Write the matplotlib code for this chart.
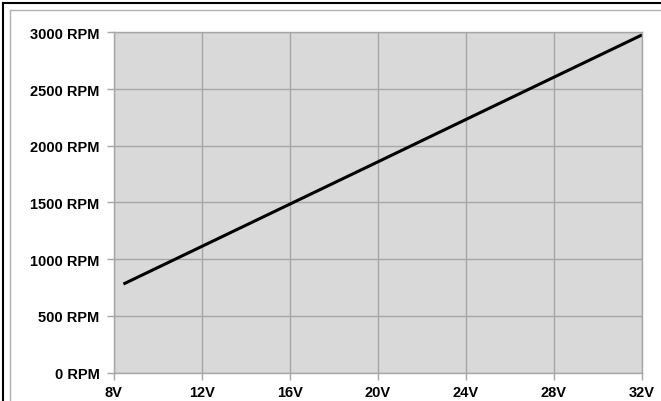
import matplotlib
matplotlib.use("Agg")
import matplotlib.pyplot as plt
from matplotlib.lines import Line2D

# motor speed vs supply voltage
volts = [8.45, 12, 16, 20, 24, 28, 32]
rpm = [780, 1111, 1484, 1857, 2231, 2604, 2977]

xticks = [8, 12, 16, 20, 24, 28, 32]
xlabels = ["8V", "12V", "16V", "20V", "24V", "28V", "32V"]
yticks = [0, 500, 1000, 1500, 2000, 2500, 3000]
ylabels = ["%d RPM" % v for v in yticks]

plt.rcParams["font.family"] = ["Liberation Sans", "DejaVu Sans"]
plt.rcParams["font.weight"] = "bold"

grid_col = "#a6a6a6"

fig = plt.figure(figsize=(6.61, 4.02), dpi=100)
fig.patch.set_facecolor("white")

# outer frame bits from the original screenshot
W, H = 661.0, 402.0
fig.add_artist(Line2D([3 / W, 3 / W], [0, 1 - 4 / H], color="black", lw=1.5, transform=fig.transFigure))
fig.add_artist(Line2D([3 / W, 1], [1 - 4 / H, 1 - 4 / H], color="black", lw=1.5, transform=fig.transFigure))
fig.add_artist(Line2D([10 / W, 10 / W], [0, 1 - 11 / H], color="#b0b0b0", lw=1, transform=fig.transFigure))
fig.add_artist(Line2D([10 / W, 1], [1 - 11 / H, 1 - 11 / H], color="#b0b0b0", lw=1, transform=fig.transFigure))

ax = fig.add_axes([113.5 / W, (H - 373.5) / H, (642 - 113.5) / W, (373.5 - 33.3) / H])
ax.set_facecolor("#d9d9d9")
ax.plot(volts, rpm, color="black", lw=2.2, solid_capstyle="butt")

ax.set_xlim(8, 32)
ax.set_ylim(0, 3000)
ax.set_xticks(xticks)
ax.set_xticklabels(xlabels)
ax.set_yticks(yticks)
ax.set_yticklabels(ylabels)
ax.grid(True, color=grid_col, lw=1)
ax.set_axisbelow(True)
for s in ax.spines.values():
    s.set_color(grid_col)
    s.set_linewidth(1)
ax.tick_params(axis="both", colors=grid_col, length=5, width=1, labelsize=10.5, labelcolor="black")
ax.tick_params(axis="y", pad=5)
ax.tick_params(axis="x", pad=4)

fig.savefig("out.png", dpi=100)
